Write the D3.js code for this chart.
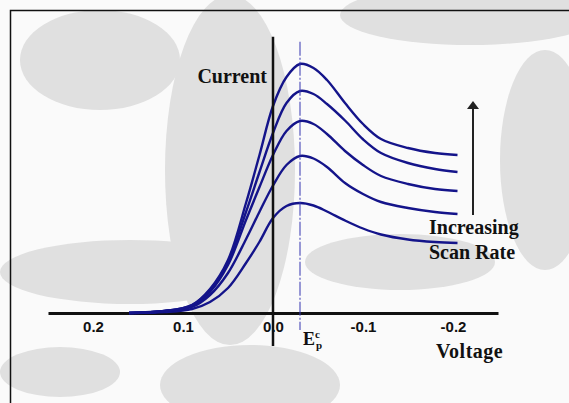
<!DOCTYPE html>
<html>
<head>
<meta charset="utf-8">
<script src="https://cdn.jsdelivr.net/npm/d3@7"></script>
<style>
  body { margin: 0; background: #fafafa; }
  svg { display: block; }
  .tick text { font-family: "Liberation Sans", Arial, sans-serif; font-weight: bold; font-size: 15px; fill: #111; }
  .lbl { font-family: "Liberation Serif", "Times New Roman", serif; font-weight: bold; fill: #111; }
</style>
</head>
<body>
<div id="chart"></div>
<script>
// voltage grid (V) shared by every curve
var voltages = [0.16, 0.12, 0.09, 0.07, 0.05, 0.03, 0.015, 0, -0.015, -0.03, -0.045, -0.06, -0.08, -0.1, -0.12, -0.15, -0.18, -0.205];

// current (arbitrary units), one array per scan rate, slowest first
var rate1 = [0, 0.04, 0.16, 0.44, 1.0, 2.0, 2.85, 3.8, 4.28, 4.4, 4.3, 4.06, 3.7, 3.38, 3.14, 2.94, 2.84, 2.8];
var rate2 = [0, 0.08, 0.24, 0.72, 1.6, 2.95, 4.05, 5.1, 5.92, 6.28, 6.18, 5.84, 5.2, 4.76, 4.44, 4.2, 4.04, 3.96];
var rate3 = [0, 0.08, 0.28, 0.84, 1.92, 3.72, 5.04, 6.32, 7.28, 7.68, 7.56, 7.16, 6.48, 5.92, 5.48, 5.16, 4.96, 4.88];
var rate4 = [0, 0.08, 0.32, 0.92, 2.04, 4.04, 5.64, 7.2, 8.4, 8.88, 8.76, 8.36, 7.7, 6.95, 6.4, 6.0, 5.76, 5.64];
var rate5 = [0, 0.08, 0.32, 0.96, 2.12, 4.4, 6.32, 8.28, 9.44, 9.96, 9.8, 9.32, 8.4, 7.56, 6.96, 6.6, 6.4, 6.32];

var tickValues = [0.2, 0.1, 0.0, -0.1, -0.2];
var tickLabels = ["0.2", "0.1", "0.0", "-0.1", "-0.2"];
var peakVoltage = -0.03;

var width = 569, height = 403;

var svg = d3.select("#chart").append("svg")
    .attr("width", width)
    .attr("height", height);

// faint watermark blobs in the background
var blobs = [[100, 60, 80, 50], [230, 170, 65, 175], [470, 15, 130, 30], [545, 160, 45, 110],
             [130, 272, 130, 32], [400, 262, 95, 28], [250, 385, 90, 40], [60, 372, 60, 25]];
svg.selectAll(".blob")
    .data(blobs)
  .enter().append("ellipse")
    .attr("class", "blob")
    .attr("cx", function(d) { return d[0]; })
    .attr("cy", function(d) { return d[1]; })
    .attr("rx", function(d) { return d[2]; })
    .attr("ry", function(d) { return d[3]; })
    .style("fill", "#e0e0e0");

// frame on left and top
svg.append("path")
    .attr("d", "M10.5," + height + "V10.5H" + width)
    .style("fill", "none")
    .style("stroke", "#111")
    .style("stroke-width", 1.5);

// setup scales
var xScale = d3.scaleLinear().domain([0.25, -0.25]).range([48, 498]),
    yScale = d3.scaleLinear().domain([0, 10]).range([313, 63]);

// x-axis
var xAxis = d3.axisBottom(xScale)
    .tickValues(tickValues)
    .tickFormat(function(d, i) { return tickLabels[i]; })
    .tickSize(0)
    .tickPadding(8);

var gx = svg.append("g")
    .attr("transform", "translate(0," + yScale(0) + ")")
    .call(xAxis);
gx.select(".domain").style("stroke", "#111").style("stroke-width", 3);

// curves
var line = d3.line()
    .x(function(d) { return xScale(d[0]); })
    .y(function(d) { return yScale(d[1]); })
    .curve(d3.curveCatmullRom.alpha(0.5));

var series = [rate1, rate2, rate3, rate4, rate5];
svg.selectAll(".curve")
    .data(series)
  .enter().append("path")
    .attr("class", "curve")
    .attr("d", function(s) { return line(voltages.map(function(v, i) { return [v, s[i]]; })); })
    .style("fill", "none")
    .style("stroke", "#14148a")
    .style("stroke-width", 2.4);

// y-axis (current)
svg.append("line")
    .attr("x1", xScale(0)).attr("x2", xScale(0))
    .attr("y1", yScale(11.05)).attr("y2", yScale(-1.32))
    .style("stroke", "#111")
    .style("stroke-width", 2.5);

// peak potential marker
svg.append("line")
    .attr("x1", xScale(peakVoltage)).attr("x2", xScale(peakVoltage))
    .attr("y1", yScale(10.85)).attr("y2", yScale(-0.68))
    .style("stroke", "#3434b0")
    .style("stroke-width", 1)
    .style("stroke-dasharray", "14,2,2,2");

// labels
svg.append("text")
    .attr("class", "lbl")
    .attr("x", xScale(0) - 6).attr("y", 83)
    .style("font-size", "20px")
    .style("text-anchor", "end")
    .text("Current");

var ep = svg.append("text")
    .attr("class", "lbl")
    .attr("x", xScale(peakVoltage) + 3).attr("y", 345)
    .style("font-size", "18px");
ep.append("tspan").text("E");
ep.append("tspan").attr("dy", -7).style("font-size", "11px").text("c");
ep.append("tspan").attr("x", xScale(peakVoltage) + 16).attr("dy", 11).style("font-size", "11px").text("p");

svg.append("text")
    .attr("class", "lbl")
    .attr("x", 436).attr("y", 358)
    .style("font-size", "20px")
    .style("letter-spacing", "0.5px")
    .text("Voltage");

svg.append("text")
    .attr("class", "lbl")
    .attr("x", 429).attr("y", 234)
    .style("font-size", "20px")
    .text("Increasing");

svg.append("text")
    .attr("class", "lbl")
    .attr("x", 429).attr("y", 259)
    .style("font-size", "20px")
    .text("Scan Rate");

// arrow for increasing scan rate
svg.append("line")
    .attr("x1", 473).attr("x2", 473)
    .attr("y1", 215).attr("y2", 108)
    .style("stroke", "#222")
    .style("stroke-width", 2);
svg.append("path")
    .attr("d", "M473,101L479,109L467,109Z")
    .style("fill", "#222");
</script>
</body>
</html>
